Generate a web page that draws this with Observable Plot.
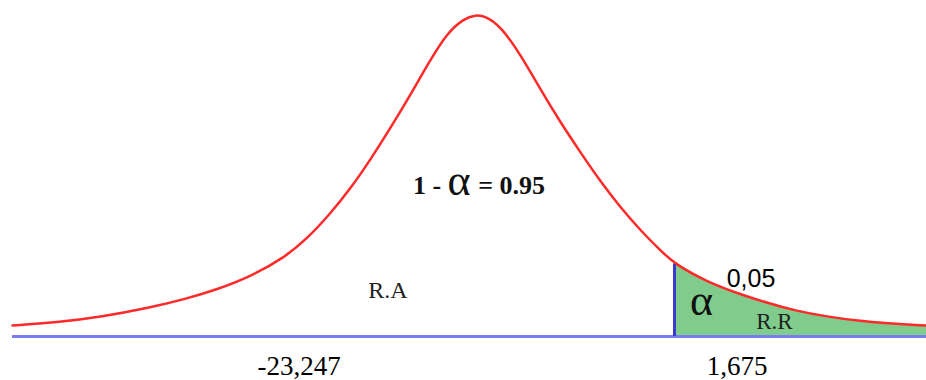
<!DOCTYPE html>
<html>
<head>
<meta charset="utf-8">
<script src="https://cdn.jsdelivr.net/npm/d3@7"></script>
<script src="https://cdn.jsdelivr.net/npm/@observablehq/plot@0.6"></script>
<style>
  html, body { margin: 0; padding: 0; background: #fff; }
  #chart svg { display: block; }
</style>
</head>
<body>
<div id="chart"></div>
<script>
// Curve (x in t units, y in density units)
const curveX = [-3.842, -3.442, -3.108, -2.692, -2.414, -2.136, -1.858, -1.581, -1.386, -1.192, -1.025, -0.858, -0.692, -0.525, -0.358, -0.219, -0.081, 0.017, 0.1, 0.225, 0.392, 0.558, 0.725, 0.892, 1.058, 1.225, 1.392, 1.558, 1.675, 1.948, 2.225, 2.667, 3.225, 3.775];
const curveY = [0.0137, 0.0180, 0.0242, 0.0360, 0.0460, 0.0584, 0.0745, 0.0975, 0.1215, 0.1528, 0.1839, 0.2199, 0.2590, 0.3006, 0.3441, 0.3770, 0.3950, 0.3994, 0.3981, 0.3857, 0.3503, 0.3068, 0.2658, 0.2286, 0.1925, 0.1602, 0.1317, 0.1068, 0.0903, 0.0677, 0.0522, 0.0311, 0.0180, 0.0137];
const critical = 1.675;
const criticalY = 0.0903;

// Annotations
const labelText = ["1 -", "α", "= 0.95", "R.A", "α", "0,05", "R.R", "-23,247", "1,675"];
const labelX = [-0.3875, -0.12, 0.317, -0.7125, 1.9, 2.3125, 2.508, -1.454, 2.196];
const labelY = [0.1776, 0.1752, 0.1776, 0.0484, 0.0261, 0.0609, 0.0099, -0.0484, -0.0484];

const curve = curveX.map((x, i) => ({x, y: curveY[i]}));
const tail = curve.filter(d => d.x >= critical);
const labels = labelText.map((t, i) => ({t, x: labelX[i], y: labelY[i]}));

const serif = "Liberation Serif";
const pick = idx => labels.filter((d, i) => idx.includes(i));

const chart = Plot.plot({
  width: 926,
  height: 380,
  marginLeft: 12,
  marginRight: 0,
  marginTop: 14,
  marginBottom: 44,
  x: {domain: [-3.842, 3.775], axis: null},
  y: {domain: [0, 0.4], axis: null},
  style: {background: "#fff", overflow: "visible"},
  marks: [
    Plot.areaY(tail, {x: "x", y: "y", fill: "#80cc8c", curve: "basis"}),
    Plot.ruleY([0], {stroke: "#7b7bf2", strokeWidth: 3}),
    Plot.ruleX([critical], {y1: 0, y2: criticalY, stroke: "#3a3ad0", strokeWidth: 3}),
    Plot.line(curve, {x: "x", y: "y", stroke: "#ff2a2a", strokeWidth: 2.5, curve: "basis"}),
    Plot.text(pick([0, 2]), {x: "x", y: "y", text: "t", lineAnchor: "bottom", fontSize: 26, fontWeight: "bold", fontFamily: serif, fill: "#111"}),
    Plot.text(pick([1, 4]), {x: "x", y: "y", text: "t", lineAnchor: "bottom", fontSize: 44, fontFamily: serif, fill: "#111"}),
    Plot.text(pick([3]), {x: "x", y: "y", text: "t", lineAnchor: "bottom", fontSize: 24, fontFamily: serif, fill: "#222"}),
    Plot.text(pick([6]), {x: "x", y: "y", text: "t", lineAnchor: "bottom", fontSize: 23, fontFamily: serif, fill: "#222"}),
    Plot.text(pick([5]), {x: "x", y: "y", text: "t", lineAnchor: "bottom", fontSize: 25, fontFamily: "Liberation Sans", fill: "#000"}),
    Plot.text(pick([7, 8]), {x: "x", y: "y", text: "t", lineAnchor: "bottom", fontSize: 27, fontFamily: serif, fill: "#000"})
  ]
});
document.getElementById("chart").appendChild(chart);
</script>
</body>
</html>
